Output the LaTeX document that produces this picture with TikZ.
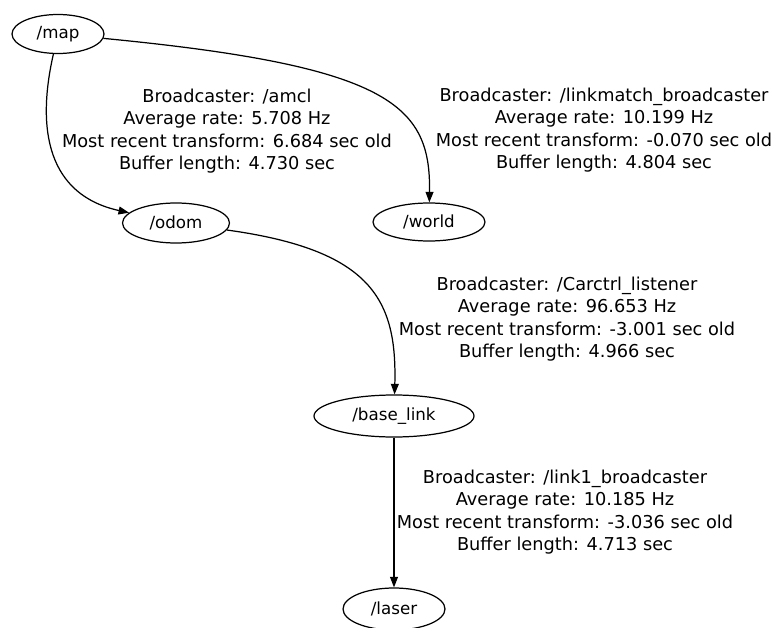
\documentclass[tikz,border=0pt]{standalone}
\usepackage{fontspec}
\setmainfont{DejaVu Sans}
\usetikzlibrary{shapes.geometric,arrows.meta}

\begin{document}
\begin{tikzpicture}[x=0.02cm, y=-0.02cm,
        frame/.style={draw, ellipse, line width=0.7pt, inner sep=0pt, font=\fontsize{9.5}{12}\selectfont},
        tfedge/.style={draw, line width=0.7pt, -{Triangle[length=6pt,width=4.5pt]}},
        info/.style={align=center, inner sep=0pt, font=\fontsize{10.1}{12.75}\selectfont}]
        \useasboundingbox (0,0) rectangle (777,628);

        \node[frame, minimum width=1.84cm, minimum height=0.78cm] (map) at (58,34) {/map};
        \node[frame, minimum width=2.14cm, minimum height=0.80cm] (odom) at (176,223) {/odom};
        \node[frame, minimum width=2.24cm, minimum height=0.76cm] (world) at (429,222) {/world};
        \node[frame, minimum width=3.20cm, minimum height=0.84cm] (baselink) at (394,416) {/base\_link};
        \node[frame, minimum width=2.04cm, minimum height=0.84cm] (laser) at (394,609) {/laser};

        \draw[tfedge] (map) .. controls (36,130) and (48,195) .. (odom);
        \draw[tfedge] (map) .. controls (390,66) and (431,105) .. (world);
        \draw[tfedge] (odom) .. controls (372,250) and (397,300) .. (baselink);
        \draw[tfedge] (baselink) -- (laser);

        \node[info] (amcl) at (227,131) {Broadcaster: /amcl\\Average rate: 5.708 Hz\\Most recent transform: 6.684 sec old\\Buffer length: 4.730 sec};
        \node[info] (linkmatch) at (604,130) {Broadcaster: /linkmatch\_broadcaster\\Average rate: 10.199 Hz\\Most recent transform: -0.070 sec old\\Buffer length: 4.804 sec};
        \node[info] (carctrl) at (567,319) {Broadcaster: /Carctrl\_listener\\Average rate: 96.653 Hz\\Most recent transform: -3.001 sec old\\Buffer length: 4.966 sec};
        \node[info] (link1) at (565,512) {Broadcaster: /link1\_broadcaster\\Average rate: 10.185 Hz\\Most recent transform: -3.036 sec old\\Buffer length: 4.713 sec};
\end{tikzpicture}
\end{document}
